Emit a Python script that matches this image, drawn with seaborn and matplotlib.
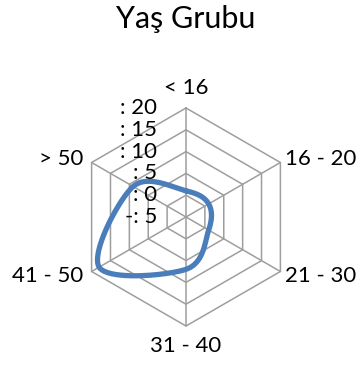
import numpy as np
import matplotlib.pyplot as plt
import seaborn as sns

# radar chart, Excel style (hexagon grid, smoothed line)
categories = ['< 16', '16 - 20', '21 - 30', '31 - 40', '41 - 50', '> 50']
values = [1, 1, 1, 7, 18, 9]
ring_ticks = [-5, 0, 5, 10, 15, 20]
ring_labels = ['-: 5', ': 0', ': 5', ': 10', ': 15', ': 20']
title = 'Yaş Grubu'

sns.set_theme(style='white')
plt.rcParams['font.family'] = ['Lato', 'DejaVu Sans']

r_min, r_max = ring_ticks[0], ring_ticks[-1]
n = len(categories)
angles = np.pi / 2 - np.arange(n) * 2 * np.pi / n


def to_xy(v, ang):
    r = np.asarray(v, dtype=float) - r_min
    return r * np.cos(ang), r * np.sin(ang)


def smooth_closed(px, py, steps=40):
    # uniform catmull-rom through the points, closed loop
    pts = np.column_stack([px, py])
    out = []
    for i in range(len(pts)):
        p0, p1, p2, p3 = pts[i - 1], pts[i], pts[(i + 1) % len(pts)], pts[(i + 2) % len(pts)]
        for t in np.linspace(0, 1, steps, endpoint=False):
            out.append(0.5 * ((2 * p1) + (-p0 + p2) * t
                              + (2 * p0 - 5 * p1 + 4 * p2 - p3) * t ** 2
                              + (-p0 + 3 * p1 - 3 * p2 + p3) * t ** 3))
    out.append(out[0])
    out = np.array(out)
    return out[:, 0], out[:, 1]


fig = plt.figure(figsize=(3.6, 3.65), dpi=100)
ax = fig.add_axes([0, 0, 1, 1])
scale = 109 / (r_max - r_min)  # pixels per unit
cx, cy = 186, 217
ax.set_xlim(-cx / scale, (360 - cx) / scale)
ax.set_ylim(-(365 - cy) / scale, cy / scale)
ax.set_aspect('equal')
ax.axis('off')

grid_color = '#9E9E9E'
for tick in ring_ticks[1:]:
    hx, hy = to_xy([tick] * (n + 1), np.append(angles, angles[0]))
    ax.plot(hx, hy, color=grid_color, lw=1.1, zorder=1)
for ang in angles:
    sx, sy = to_xy([r_min, r_max], ang)
    ax.plot(sx, sy, color=grid_color, lw=1.1, zorder=1)

px, py = to_xy(values, angles)
lx, ly = smooth_closed(px, py)
sns.lineplot(x=lx, y=ly, sort=False, estimator=None, color='#4A7EBB',
             linewidth=3.8, ax=ax, legend=False, zorder=3)

# ring labels along the top spoke
for tick, lab in zip(ring_ticks, ring_labels):
    ax.annotate(lab, xy=(0, tick - r_min), xytext=(-29, 0), textcoords='offset pixels',
                ha='right', va='center', fontsize=16, color='black', zorder=4)

# category labels
offsets = [(0, 20, 'center'), (5, 3, 'left'), (5, -5, 'left'),
           (0, -20, 'center'), (-8, -5, 'right'), (-8, 3, 'right')]
for cat, ang, (dx, dy, ha) in zip(categories, angles, offsets):
    vx, vy = to_xy(r_max, ang)
    ax.annotate(cat, xy=(vx, vy), xytext=(dx, dy), textcoords='offset pixels',
                ha=ha, va='center', fontsize=16, color='black')

fig.text(186 / 360, 1 - 19 / 365, title, ha='center', va='center', fontsize=22, color='black')

fig.savefig('out.png', dpi=100)
